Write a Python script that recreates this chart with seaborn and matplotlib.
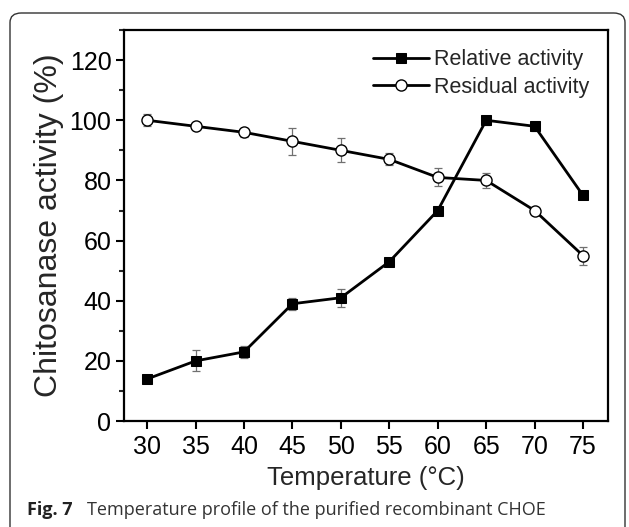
import numpy as np
import pandas as pd
import matplotlib.pyplot as plt
import seaborn as sns
from matplotlib.patches import FancyBboxPatch
from matplotlib.ticker import MultipleLocator

# Data
temperature = [30, 35, 40, 45, 50, 55, 60, 65, 70, 75]
relative = [14, 20, 23, 39, 41, 53, 70, 100, 98, 75]
relative_err = [0.5, 3.5, 2, 2, 3, 1, 1, 1.5, 1.5, 1]
residual = [100, 98, 96, 93, 90, 87, 81, 80, 70, 55]
residual_err = [2, 1, 1.5, 4.5, 4, 2, 3, 2.5, 1, 3]

df = pd.DataFrame({
    'Temperature': temperature,
    'Relative activity': relative,
    'Residual activity': residual,
})

sns.set_style('ticks')
plt.rcParams['font.family'] = ['Liberation Sans', 'DejaVu Sans']

fig = plt.figure(figsize=(6.29, 5.27), dpi=100)
ax = fig.add_axes([0.197, 0.201, 0.770, 0.742])

# error bars (grey, behind markers)
ax.errorbar(temperature, relative, yerr=relative_err, fmt='none',
            ecolor='#707070', elinewidth=0.9, capsize=3, capthick=0.9, zorder=1)
ax.errorbar(temperature, residual, yerr=residual_err, fmt='none',
            ecolor='#707070', elinewidth=0.9, capsize=3, capthick=0.9, zorder=1)

sns.lineplot(data=df, x='Temperature', y='Relative activity', ax=ax,
             color='black', linewidth=2, marker='s', markersize=7,
             markerfacecolor='black', markeredgecolor='black',
             label='Relative activity', zorder=3)
sns.lineplot(data=df, x='Temperature', y='Residual activity', ax=ax,
             color='black', linewidth=2, marker='o', markersize=8,
             markerfacecolor='white', markeredgecolor='black', markeredgewidth=1,
             label='Residual activity', zorder=3)

ax.set_xlim(27.6, 77.6)
ax.set_ylim(0, 130)
ax.set_xticks(temperature)
ax.yaxis.set_major_locator(MultipleLocator(20))
ax.yaxis.set_minor_locator(MultipleLocator(10))
ax.tick_params(axis='both', which='major', direction='out', length=6, width=1.5,
               labelsize=18, color='black', labelcolor='black')
ax.tick_params(axis='y', which='minor', direction='out', length=3.5, width=1.5)
ax.tick_params(axis='y', which='major', pad=3)
ax.tick_params(axis='x', which='major', pad=4)
ax.set_yticks(range(0, 121, 20))
for side in ['left', 'right', 'top', 'bottom']:
    ax.spines[side].set_visible(True)
    ax.spines[side].set_linewidth(1.6)
    ax.spines[side].set_color('black')

ax.set_xlabel('Temperature (°C)', fontsize=18.5, labelpad=5)
ax.set_ylabel('Chitosanase activity (%)', fontsize=23, labelpad=4)

leg = ax.legend(loc='upper right', frameon=False, fontsize=15.5, handlelength=2.6,
                handletextpad=0.2, labelspacing=0.3, borderaxespad=0.5)

# outer rounded frame and caption
frame = FancyBboxPatch((10 / 629, -0.05), 615 / 629, 1.0 - 13 / 527 + 0.05,
                       boxstyle='round,pad=0,rounding_size=0.018',
                       transform=fig.transFigure, fill=False,
                       edgecolor='#333333', linewidth=1.0, clip_on=False)
fig.patches.append(frame)

fig.text(27 / 629, 1 - 510 / 527, 'Fig. 7', fontsize=13, fontweight='bold',
         family=['Open Sans', 'DejaVu Sans'], va='center', ha='left', color='#222222')
fig.text(87 / 629, 1 - 510 / 527, 'Temperature profile of the purified recombinant CHOE',
         fontsize=13, family=['Open Sans', 'DejaVu Sans'], va='center', ha='left',
         color='#333333')

fig.savefig('out.png', dpi=100)
